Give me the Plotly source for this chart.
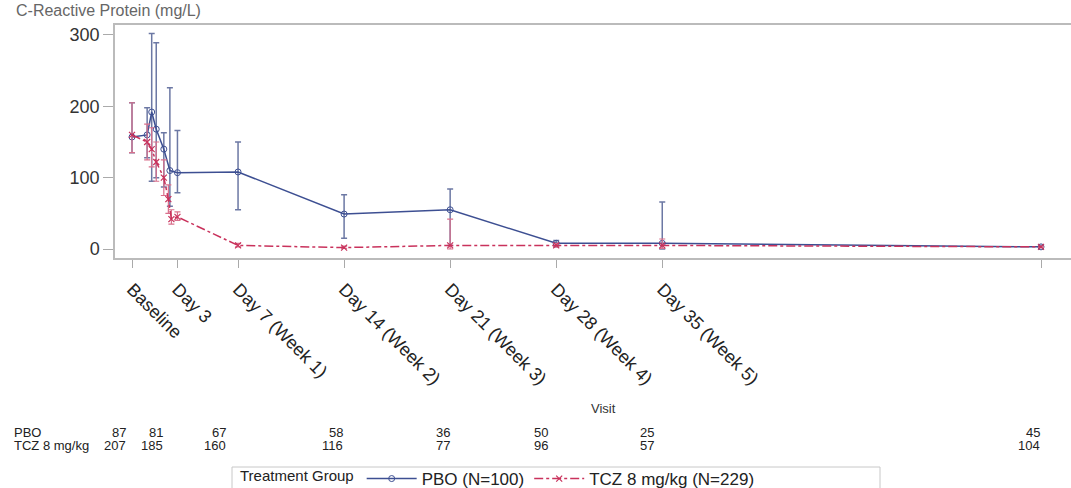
import plotly.graph_objects as go

# ---------------- data ----------------
tick_days = [0, 3, 7, 14, 21, 28, 35, 60]
tick_labels = ["Baseline", "Day 3", "Day 7 (Week 1)", "Day 14 (Week 2)", "Day 21 (Week 3)",
               "Day 28 (Week 4)", "Day 35 (Week 5)", "Day 60"]

pbo_days = [0, 1.0, 1.3, 1.6, 2.1, 2.5, 3, 7, 14, 21, 28, 35, 60]
pbo_mean = [157, 160, 192, 168, 140, 110, 107, 108, 49, 55, 8, 8, 3]
pbo_upper = [205, 198, 302, 289, 163, 226, 166, 150, 76, 84, 12, 66, 5]
pbo_lower = [135, 128, 95, 100, 87, 60, 79, 55, 15, 5, 3, 0, 2]

tcz_days = [0, 1.0, 1.3, 1.6, 2.1, 2.4, 2.6, 3, 7, 14, 21, 28, 35, 60]
tcz_mean = [160, 150, 140, 122, 100, 70, 42, 45, 5, 2, 5, 5, 5, 3]
tcz_upper = [205, 175, 170, 150, 125, 90, 55, 52, 8, 4, 42, 8, 14, 4]
tcz_lower = [135, 125, 115, 95, 75, 50, 35, 40, 3, 1, 0, 3, 1, 2]

risk_pbo = [87, 81, 67, 58, 36, 50, 25, 45]
risk_tcz = [207, 185, 160, 116, 77, 96, 57, 104]
risk_rows = ["PBO", "TCZ 8 mg/kg"]
legend_names = ["PBO (N=100)", "TCZ 8 mg/kg (N=229)"]
title_text = "C-Reactive Protein (mg/L)"

# ---------------- layout constants ----------------
W, H = 1071, 488
L, T, B = 115, 25, 258          # plot area pixel edges
PW, PH = W - L, B - T
FONT = "Liberation Sans, Arial, sans-serif"
BLUE = "#3d4f92"
BLUE_ERR = "#6c78a4"
RED = "#c9325c"
RED_ERR = "#d9708c"
risk_xshift = [-4, -12, -10, 1, 2, -6, -6, 1]


def px_to_paper_x(px):
    return (px - L) / PW


def px_to_paper_y(py):
    return (B - py) / PH


def err(mean, up, lo):
    return [u - m for m, u in zip(mean, up)], [m - l for m, l in zip(mean, lo)]


fig = go.Figure()

pu, pl = err(pbo_mean, pbo_upper, pbo_lower)
fig.add_trace(go.Scatter(
    x=pbo_days, y=pbo_mean, mode="lines+markers", name=legend_names[0],
    line=dict(color=BLUE, width=1.5),
    marker=dict(symbol="circle-open", size=6, color=BLUE),
    error_y=dict(type="data", array=pu, arrayminus=pl, color=BLUE_ERR, thickness=1.5, width=3),
))

tu, tl = err(tcz_mean, tcz_upper, tcz_lower)
fig.add_trace(go.Scatter(
    x=tcz_days, y=tcz_mean, mode="lines+markers", name=legend_names[1],
    line=dict(color=RED, width=1.5, dash="dashdot"),
    marker=dict(symbol="x-thin-open", size=6, color=RED, line=dict(width=1.2, color=RED)),
    error_y=dict(type="data", array=tu, arrayminus=tl, color=RED_ERR, thickness=1.2, width=3),
))

annotations = []
# title at top
annotations.append(dict(text=title_text, xref="paper", yref="paper",
                        x=px_to_paper_x(14), y=px_to_paper_y(0), xanchor="left", yanchor="top",
                        showarrow=False, font=dict(family=FONT, size=16, color="#666")))
# x axis title
annotations.append(dict(text="Visit", xref="paper", yref="paper",
                        x=px_to_paper_x(603), y=px_to_paper_y(408), xanchor="center", yanchor="middle",
                        showarrow=False, font=dict(family=FONT, size=13, color="#333")))
# at-risk table
row_y = [432, 446]
for label, vals, py in zip(risk_rows, [risk_pbo, risk_tcz], row_y):
    annotations.append(dict(text=label, xref="paper", yref="paper",
                            x=px_to_paper_x(12), y=px_to_paper_y(py), xanchor="left", yanchor="middle",
                            showarrow=False, font=dict(family=FONT, size=13, color="#222")))
    for d, v, sh in zip(tick_days, vals, risk_xshift):
        annotations.append(dict(text=str(v), xref="x", yref="paper",
                                x=d, xshift=sh, y=px_to_paper_y(py), xanchor="right", yanchor="middle",
                                showarrow=False, font=dict(family=FONT, size=13, color="#222")))

# legend frame
shapes = [dict(type="rect", xref="paper", yref="paper",
               x0=px_to_paper_x(232), x1=px_to_paper_x(880),
               y0=px_to_paper_y(467), y1=px_to_paper_y(500),
               line=dict(color="#c8c8c8", width=1), fillcolor="rgba(0,0,0,0)", layer="below")]

fig.update_layout(
    width=W, height=H,
    margin=dict(l=L, r=0, t=T, b=H - B, autoexpand=False),
    paper_bgcolor="white", plot_bgcolor="white",
    font=dict(family=FONT, color="#333"),
    showlegend=True,
    shapes=shapes,
    legend=dict(orientation="h", x=px_to_paper_x(238), y=px_to_paper_y(461),
                xanchor="left", yanchor="top",
                borderwidth=0, bgcolor="rgba(0,0,0,0)",
                font=dict(family=FONT, size=17, color="#222"),
                title=dict(text="Treatment Group", side="left", font=dict(family=FONT, size=15, color="#222")),
                itemwidth=50),
    annotations=annotations,
    xaxis=dict(range=[(L - 132) / 15.15, (W - 132) / 15.15], tickvals=tick_days, ticktext=tick_labels,
               tickangle=45, ticks="outside", ticklen=8, tickcolor="#aaa",
               showline=True, linecolor="#bbb", linewidth=1.5, mirror=True,
               showgrid=False, zeroline=False, ticklabelstandoff=4,
               tickfont=dict(family=FONT, size=18, color="#222")),
    yaxis=dict(range=[-12.6, 314], tickvals=[0, 100, 200, 300],
               ticks="outside", ticklen=10, tickcolor="#aaa",
               showline=True, linecolor="#bbb", linewidth=1.5,
               showgrid=False, zeroline=False,
               tickfont=dict(family=FONT, size=18, color="#333")),
)

fig.write_html("out.html")
